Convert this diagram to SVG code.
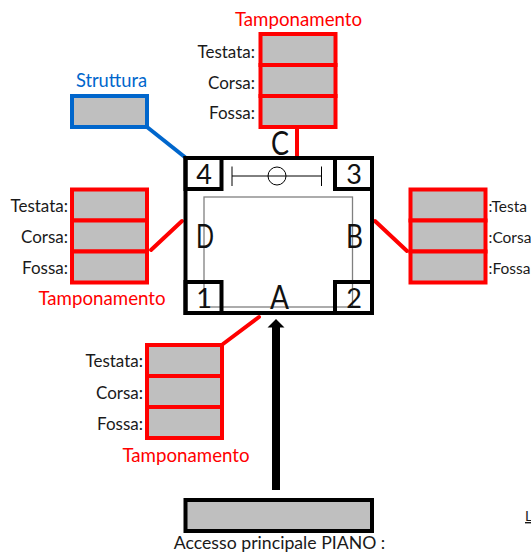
<svg xmlns="http://www.w3.org/2000/svg" width="531" height="553" viewBox="0 0 531 553">
<style>
text{font-family:Lato,"Liberation Sans",sans-serif;font-size:17px;fill:#1a1a1a}
.e{text-anchor:end}.m{text-anchor:middle}
.t{fill:#ff0000;font-size:18.700px}
.r{font-size:15.500px}
.big{font-size:33px;fill:#111;text-anchor:middle}
.num{font-size:27px;fill:#111;text-anchor:middle}
.cell{fill:#bfbfbf;stroke:#ff0000;stroke-width:4}
.k{fill:none;stroke:#000;stroke-width:4}
.lr{stroke:#ff0000;stroke-width:4;fill:none;stroke-linecap:round}
.thin{fill:none;stroke:#000;stroke-width:1}
</style>
<defs>
<g id="stack"><rect class="cell" x="0" y="0" width="75" height="31"/><rect class="cell" x="0" y="31" width="75" height="31"/><rect class="cell" x="0" y="62" width="75" height="31"/></g>
</defs>
<g id="connectors">
<line class="lr" x1="297" y1="128" x2="297" y2="156"/>
<line x1="147" y1="127" x2="186" y2="158" stroke="#0066cc" stroke-width="4"/>
<line class="lr" x1="151" y1="250" x2="182" y2="221"/>
<line class="lr" x1="375" y1="221" x2="407" y2="251"/>
<line class="lr" x1="223" y1="344" x2="259" y2="317"/>
<path d="M272 490V327.500H267.500L276 319L284.500 327.500H280V490Z" fill="#000"/>
</g>
<g id="main-frame">
<rect x="204" y="197" width="148.500" height="110" fill="#fff" stroke="#808080" stroke-width="1.300"/>
<rect class="k" x="185.500" y="158" width="186.500" height="155"/>
<path class="thin" d="M232 166.500V186M232 176H268M286 176H321.500M321.500 166.500V186"/>
<circle class="thin" cx="277" cy="176" r="9"/>
<line class="thin" x1="268" y1="176" x2="286" y2="176"/>
</g>
<g id="corner-4"><rect class="k" x="185.500" y="158" width="36" height="31"/><text class="num" x="204" y="184">4</text></g>
<g id="corner-3"><rect class="k" x="335" y="158" width="37" height="31"/><text class="num" x="354" y="184">3</text></g>
<g id="corner-1"><rect class="k" x="185.500" y="282" width="36" height="31"/><text class="num" x="204" y="308">1</text></g>
<g id="corner-2"><rect class="k" x="335" y="282" width="37" height="31"/><text class="num" x="354" y="308">2</text></g>
<g id="side-labels">
<text class="big" x="280" y="155" textLength="18" lengthAdjust="spacingAndGlyphs">C</text>
<text class="big" x="205" y="248" textLength="18" lengthAdjust="spacingAndGlyphs">D</text>
<text class="big" x="354.500" y="248" textLength="17" lengthAdjust="spacingAndGlyphs">B</text>
<text class="big" x="279.500" y="309" textLength="19" lengthAdjust="spacingAndGlyphs">A</text>
</g>
<g id="tamp-c"><text class="t m" x="298.500" y="26">Tamponamento</text><use href="#stack" x="260.500" y="34"/>
<text class="e" x="255" y="58">Testata:</text><text class="e" x="255" y="89">Corsa:</text><text class="e" x="255" y="119">Fossa:</text></g>
<g id="struttura"><text class="m" style="fill:#0066cc;font-size:18.300px" x="111.500" y="87">Struttura</text><rect x="72" y="96" width="75" height="31" fill="#bfbfbf" stroke="#0066cc" stroke-width="4"/></g>
<g id="tamp-d"><use href="#stack" x="72" y="189.500"/>
<text class="e" x="68" y="212">Testata:</text><text class="e" x="68" y="243">Corsa:</text><text class="e" x="68" y="274">Fossa:</text>
<text class="t m" x="102" y="305">Tamponamento</text></g>
<g id="tamp-b"><use href="#stack" x="410.500" y="189.500"/>
<text class="r" x="488.500" y="212">:Testa</text><text class="r" x="488.500" y="243">:Corsa</text><text class="r" x="488.500" y="274">:Fossa</text></g>
<g id="tamp-a"><use href="#stack" x="147" y="345"/>
<text class="e" x="143" y="367">Testata:</text><text class="e" x="143" y="399">Corsa:</text><text class="e" x="143" y="430">Fossa:</text>
<text class="t m" x="186" y="462">Tamponamento</text></g>
<g id="accesso"><rect class="k" style="fill:#bfbfbf" x="185.500" y="500" width="186.500" height="31"/><text class="m" style="font-size:17.700px" x="279.500" y="548.500">Accesso principale PIANO :</text></g>
<g id="clipped"><text x="525" y="521" style="font-size:14px;text-decoration:underline">L</text></g>
</svg>
